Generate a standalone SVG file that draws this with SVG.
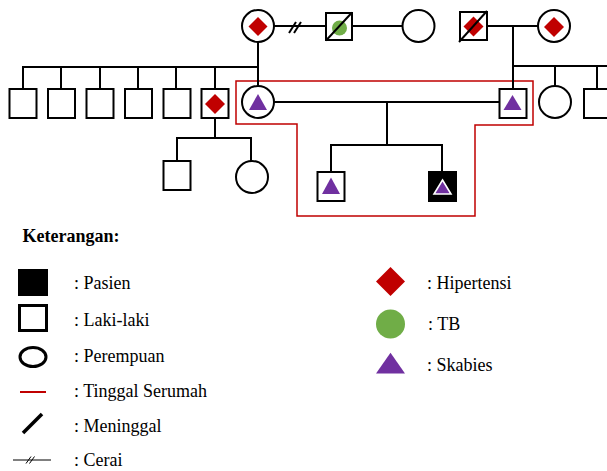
<svg xmlns="http://www.w3.org/2000/svg" width="607" height="471" viewBox="0 0 607 471">
  <defs>
    <style>
      .ln { stroke: #000; stroke-width: 2; fill: none; }
      .sq { fill: #fff; stroke: #000; stroke-width: 2; }
      .ci { fill: #fff; stroke: #000; stroke-width: 2; }
      .ht { fill: #c00000; }
      .tb { fill: #70ad47; }
      .sk { fill: #7030a0; }
      .dead { stroke: #000; stroke-width: 2; }
      .home { fill: none; stroke: #c00000; stroke-width: 1.5; }
      .lbl { font-family: "Liberation Serif", "Times New Roman", serif; font-size: 18px; fill: #000; }
      .ttl { font-family: "Liberation Serif", "Times New Roman", serif; font-size: 18px; font-weight: bold; fill: #000; }
    </style>
  </defs>

  <rect width="607" height="471" fill="#fff"/>

  <!-- household boundary -->
  <polygon class="home" points="236,81 533,81 533,125 475,125 475,216 297,216 297,124 236,124"/>

  <!-- connectors -->
  <g id="connectors">
    <!-- grandparents (maternal side), divorced -->
    <line class="ln" x1="274" y1="26" x2="326" y2="26"/>
    <line class="ln" x1="289" y1="33" x2="296" y2="22" stroke-width="1.2"/>
    <line class="ln" x1="294" y1="33" x2="301" y2="22" stroke-width="1.2"/>
    <line class="ln" x1="352" y1="26" x2="402" y2="26"/>
    <!-- maternal sibship -->
    <line class="ln" x1="258" y1="42" x2="258" y2="86"/>
    <line class="ln" x1="22" y1="67" x2="258" y2="67"/>
    <line class="ln" x1="23" y1="66" x2="23" y2="89"/>
    <line class="ln" x1="61" y1="67" x2="61" y2="89"/>
    <line class="ln" x1="100" y1="66" x2="100" y2="89"/>
    <line class="ln" x1="138" y1="66" x2="138" y2="89"/>
    <line class="ln" x1="176" y1="66" x2="176" y2="89"/>
    <line class="ln" x1="215" y1="66" x2="215" y2="89"/>
    <!-- uncle's children -->
    <line class="ln" x1="215" y1="117" x2="215" y2="138"/>
    <line class="ln" x1="176" y1="138" x2="252" y2="138"/>
    <line class="ln" x1="177" y1="137" x2="177" y2="161"/>
    <line class="ln" x1="251" y1="137" x2="251" y2="161"/>
    <!-- paternal grandparents -->
    <line class="ln" x1="487" y1="26" x2="538" y2="26"/>
    <line class="ln" x1="513" y1="26" x2="513" y2="89"/>
    <line class="ln" x1="513" y1="66" x2="607" y2="66"/>
    <line class="ln" x1="555" y1="65" x2="555" y2="86"/>
    <line class="ln" x1="597" y1="65" x2="597" y2="89"/>
    <!-- parents and children -->
    <line class="ln" x1="274" y1="102" x2="499" y2="102"/>
    <line class="ln" x1="387" y1="102" x2="387" y2="145"/>
    <line class="ln" x1="330" y1="145" x2="443" y2="145"/>
    <line class="ln" x1="331" y1="144" x2="331" y2="172"/>
    <line class="ln" x1="442" y1="144" x2="442" y2="172"/>
  </g>

  <!-- generation I -->
  <g id="grandmother-maternal">
    <circle class="ci" cx="258" cy="26" r="16"/>
    <polygon class="ht" points="258,17 267.5,26.5 258,36 248.5,26.5"/>
  </g>
  <g id="grandfather-maternal">
    <rect class="sq" x="326" y="13" width="26" height="27"/>
    <circle class="tb" cx="339.5" cy="28" r="7.5"/>
    <line class="dead" x1="326" y1="40.5" x2="352" y2="12.5"/>
  </g>
  <g id="stepgrandmother">
    <circle class="ci" cx="418.5" cy="26" r="16"/>
  </g>
  <g id="grandfather-paternal">
    <rect class="sq" x="460" y="12" width="27" height="28"/>
    <polygon class="ht" points="473.5,16.5 483.5,26.5 473.5,36.5 463.5,26.5"/>
    <line class="dead" x1="459" y1="42" x2="487" y2="11"/>
  </g>
  <g id="grandmother-paternal">
    <circle class="ci" cx="554" cy="26" r="16"/>
    <polygon class="ht" points="554,17 564,27 554,37 544,27"/>
  </g>

  <!-- generation II, maternal side -->
  <g id="uncle-1"><rect class="sq" x="9.5" y="89" width="27" height="29"/></g>
  <g id="uncle-2"><rect class="sq" x="48" y="89" width="27" height="29"/></g>
  <g id="uncle-3"><rect class="sq" x="86.5" y="89" width="27" height="29"/></g>
  <g id="uncle-4"><rect class="sq" x="125" y="89" width="27" height="29"/></g>
  <g id="uncle-5"><rect class="sq" x="163.5" y="89" width="27" height="29"/></g>
  <g id="uncle-6">
    <rect class="sq" x="201.5" y="89" width="27" height="29"/>
    <polygon class="ht" points="215,94 225,104 215,114 205,104"/>
  </g>
  <g id="mother">
    <circle class="ci" cx="258" cy="102" r="16"/>
    <polygon class="sk" points="258,94 267,110 249,110"/>
  </g>

  <!-- generation II, paternal side -->
  <g id="father">
    <rect class="sq" x="499.5" y="89" width="27" height="29"/>
    <polygon class="sk" points="512.5,95 521.5,110 503.5,110"/>
  </g>
  <g id="aunt-paternal">
    <circle class="ci" cx="555" cy="102" r="16"/>
  </g>
  <g id="uncle-paternal">
    <rect class="sq" x="584" y="89" width="27" height="29"/>
  </g>

  <!-- generation III -->
  <g id="cousin-m">
    <rect class="sq" x="163.5" y="161" width="27" height="29"/>
  </g>
  <g id="cousin-f">
    <circle class="ci" cx="252" cy="177" r="16"/>
  </g>
  <g id="sibling">
    <rect class="sq" x="317.5" y="172" width="27" height="29"/>
    <polygon class="sk" points="331,177.5 340,194 322,194"/>
  </g>
  <g id="patient">
    <rect x="429" y="172" width="27" height="29" fill="#000" stroke="#000" stroke-width="2"/>
    <polygon class="sk" points="442.5,180 451,194 434,194" stroke="#fff" stroke-width="1.6" stroke-linejoin="miter"/>
  </g>

  <!-- legend -->
  <g id="legend">
    <text class="ttl" x="22.5" y="242">Keterangan:</text>

    <rect x="18" y="269" width="30" height="27" fill="#000"/>
    <text class="lbl" x="74" y="289">: Pasien</text>

    <rect x="19.5" y="305.5" width="27" height="25" fill="#fff" stroke="#000" stroke-width="3"/>
    <text class="lbl" x="74" y="326">: Laki-laki</text>

    <ellipse cx="33" cy="357" rx="13" ry="9.5" fill="#fff" stroke="#000" stroke-width="3"/>
    <text class="lbl" x="74" y="362">: Perempuan</text>

    <line x1="20" y1="392" x2="46" y2="392" stroke="#c00000" stroke-width="2"/>
    <text class="lbl" x="74" y="397">: Tinggal Serumah</text>

    <line x1="23" y1="433" x2="42" y2="414" stroke="#000" stroke-width="3.5"/>
    <text class="lbl" x="74" y="432">: Meninggal</text>

    <line x1="13" y1="460" x2="51" y2="460" stroke="#000" stroke-width="1"/>
    <line x1="26" y1="463.5" x2="31" y2="456.5" stroke="#000" stroke-width="1"/>
    <line x1="29.5" y1="463.5" x2="34.5" y2="456.5" stroke="#000" stroke-width="1"/>
    <text class="lbl" x="74" y="466">: Cerai</text>

    <polygon class="ht" points="390.5,267 405,281.5 390.5,296 376,281.5"/>
    <text class="lbl" x="427" y="289">: Hipertensi</text>

    <circle class="tb" cx="390.5" cy="324" r="14.5"/>
    <text class="lbl" x="428" y="330">: TB</text>

    <polygon class="sk" points="390.5,352.7 405,373.5 376,373.5"/>
    <text class="lbl" x="427" y="371">: Skabies</text>
  </g>
</svg>
